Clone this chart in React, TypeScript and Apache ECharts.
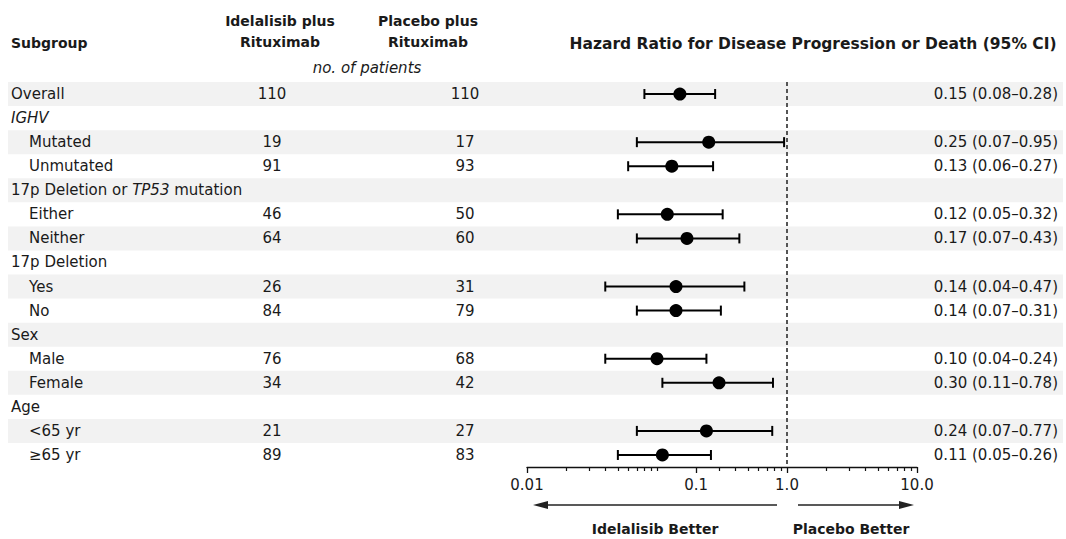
import React, { useEffect, useRef } from "react";
import * as echarts from "echarts";

// ---------- data ----------
const subgroups = [
  "Overall",
  "{i|IGHV}",
  "Mutated",
  "Unmutated",
  "17p Deletion or {i|TP53} mutation",
  "Either",
  "Neither",
  "17p Deletion",
  "Yes",
  "No",
  "Sex",
  "Male",
  "Female",
  "Age",
  "<65 yr",
  "≥65 yr",
];
const indented = [false, false, true, true, false, true, true, false, true, true, false, true, true, false, true, true];
const idelalisibN = [110, null, 19, 91, null, 46, 64, null, 26, 84, null, 76, 34, null, 21, 89];
const placeboN = [110, null, 17, 93, null, 50, 60, null, 31, 79, null, 68, 42, null, 27, 83];
const hazardRatio = [0.15, null, 0.25, 0.13, null, 0.12, 0.17, null, 0.14, 0.14, null, 0.1, 0.3, null, 0.24, 0.11];
const ciLower = [0.08, null, 0.07, 0.06, null, 0.05, 0.07, null, 0.04, 0.07, null, 0.04, 0.11, null, 0.07, 0.05];
const ciUpper = [0.28, null, 0.95, 0.27, null, 0.32, 0.43, null, 0.47, 0.31, null, 0.24, 0.78, null, 0.77, 0.26];

const majorTickValues = [0.01, 0.2, 1, 10];
const majorTickLabels = ["0.01", "0.1", "1.0", "10.0"];
const minorTickValues = [
  0.02, 0.03, 0.04, 0.05, 0.06, 0.07, 0.08, 0.09, 0.1,
  0.3, 0.4, 0.5, 0.6, 0.7, 0.8, 0.9,
  2, 3, 4, 5, 6, 7, 8, 9,
];

const FONT = '"DejaVu Sans", sans-serif';
const TEXT = "#1a1a1a";
const FS = 15;
const HFS = 14;

function fmt(v: number) {
  return v.toFixed(2);
}

export default function App() {
  const ref = useRef<HTMLDivElement>(null);

  useEffect(() => {
    if (!ref.current) return;
    const chart = echarts.init(ref.current, undefined, { renderer: "svg" });

    const rowIdx = subgroups.map((_, i) => String(i));
    const stripeData = subgroups.map((_, i) => (i % 2 === 0 ? 1 : "-"));
    const pointData: number[][] = [];
    const whiskerData: number[][] = [];
    subgroups.forEach((_, i) => {
      const h = hazardRatio[i];
      const lo = ciLower[i];
      const hi = ciUpper[i];
      if (h != null && lo != null && hi != null) {
        pointData.push([h, i]);
        whiskerData.push([lo, hi, i]);
      }
    });

    const option: any = {
      animation: false,
      backgroundColor: "#ffffff",
      grid: [
        { left: 527, right: 149, top: 82, bottom: 72 },
        { left: 8, right: 3, top: 82, bottom: 72 },
      ],
      xAxis: [
        {
          type: "log",
          logBase: 10,
          gridIndex: 0,
          min: 0.01,
          max: 10,
          position: "bottom",
          axisLine: { show: true, lineStyle: { color: "#111", width: 1.3 } },
          axisTick: {
            show: true,
            length: 6,
            inside: false,
            customValues: majorTickValues,
            lineStyle: { color: "#111", width: 1.3 },
          },
          axisLabel: {
            show: true,
            customValues: majorTickValues,
            formatter: (v: number) => {
              const k = majorTickValues.findIndex((t) => Math.abs(t - v) < 1e-9 * Math.max(1, t));
              return k >= 0 ? majorTickLabels[k] : "";
            },
            color: TEXT,
            fontFamily: FONT,
            fontSize: FS,
            margin: 10,
          },
          splitLine: { show: false },
          minorTick: { show: false },
        },
        {
          type: "log",
          logBase: 10,
          gridIndex: 0,
          min: 0.01,
          max: 10,
          position: "bottom",
          axisLine: { show: false },
          axisTick: {
            show: true,
            length: 4,
            inside: false,
            customValues: minorTickValues,
            lineStyle: { color: "#111", width: 1.2 },
          },
          axisLabel: { show: false },
          splitLine: { show: false },
        },
        {
          type: "value",
          gridIndex: 1,
          min: 0,
          max: 1,
          show: false,
        },
      ],
      yAxis: [
        { type: "category", gridIndex: 0, data: rowIdx, inverse: true, show: false },
        { type: "category", gridIndex: 1, data: rowIdx, inverse: true, show: false },
      ],
      series: [
        {
          type: "bar",
          xAxisIndex: 2,
          yAxisIndex: 1,
          data: stripeData,
          barWidth: "100%",
          barCategoryGap: 0,
          itemStyle: { color: "#f2f2f2" },
          silent: true,
          z: 0,
        },
        {
          type: "custom",
          xAxisIndex: 2,
          yAxisIndex: 1,
          data: subgroups.map((_, i) => [0, i]),
          silent: true,
          z: 5,
          renderItem: (params: any, api: any) => {
            const i = params.dataIndex;
            const y = api.coord([0, i])[1];
            const base = {
              textVerticalAlign: "middle",
              fontFamily: FONT,
              fontSize: FS,
              fill: TEXT,
            };
            const children: any[] = [
              {
                type: "text",
                x: indented[i] ? 29 : 11,
                y,
                style: {
                  ...base,
                  text: subgroups[i],
                  textAlign: "left",
                  rich: {
                    i: { fontStyle: "italic", fontFamily: FONT, fontSize: FS, fill: TEXT },
                  },
                },
              },
            ];
            if (idelalisibN[i] != null) {
              children.push({
                type: "text",
                x: 272,
                y,
                style: { ...base, text: String(idelalisibN[i]), textAlign: "center" },
              });
            }
            if (placeboN[i] != null) {
              children.push({
                type: "text",
                x: 465,
                y,
                style: { ...base, text: String(placeboN[i]), textAlign: "center" },
              });
            }
            const h = hazardRatio[i];
            const lo = ciLower[i];
            const hi = ciUpper[i];
            if (h != null && lo != null && hi != null) {
              children.push({
                type: "text",
                x: 1058,
                y,
                style: { ...base, text: `${fmt(h)} (${fmt(lo)}–${fmt(hi)})`, textAlign: "right" },
              });
            }
            return { type: "group", children };
          },
        },
        {
          type: "custom",
          xAxisIndex: 0,
          yAxisIndex: 0,
          data: whiskerData,
          encode: { x: [0, 1], y: 2 },
          clip: false,
          silent: true,
          z: 10,
          renderItem: (params: any, api: any) => {
            const row = api.value(2);
            const p0 = api.coord([api.value(0), row]);
            const p1 = api.coord([api.value(1), row]);
            const cap = 5;
            const st = { stroke: "#000", lineWidth: 2 };
            return {
              type: "group",
              children: [
                { type: "line", shape: { x1: p0[0], y1: p0[1], x2: p1[0], y2: p1[1] }, style: st },
                { type: "line", shape: { x1: p0[0], y1: p0[1] - cap, x2: p0[0], y2: p0[1] + cap }, style: st },
                { type: "line", shape: { x1: p1[0], y1: p1[1] - cap, x2: p1[0], y2: p1[1] + cap }, style: st },
              ],
            };
          },
        },
        {
          type: "scatter",
          xAxisIndex: 0,
          yAxisIndex: 0,
          data: pointData,
          symbol: "circle",
          symbolSize: 13,
          itemStyle: { color: "#000", opacity: 1 },
          silent: true,
          z: 11,
          markLine: {
            silent: true,
            symbol: ["none", "none"],
            label: { show: false },
            lineStyle: { type: [4, 3], color: "#555", width: 2 },
            data: [{ xAxis: 1 }],
          },
        },
      ],
      graphic: [
        {
          type: "text",
          x: 11,
          y: 43,
          style: {
            text: "Subgroup",
            textVerticalAlign: "middle",
            fontFamily: FONT,
            fontSize: HFS,
            fontWeight: "bold",
            fill: TEXT,
          },
        },
        {
          type: "text",
          x: 280,
          y: 31,
          style: {
            text: "Idelalisib plus\nRituximab",
            textAlign: "center",
            textVerticalAlign: "middle",
            fontFamily: FONT,
            fontSize: HFS,
            fontWeight: "bold",
            fill: TEXT,
            lineHeight: 21,
          },
        },
        {
          type: "text",
          x: 428,
          y: 31,
          style: {
            text: "Placebo plus\nRituximab",
            textAlign: "center",
            textVerticalAlign: "middle",
            fontFamily: FONT,
            fontSize: HFS,
            fontWeight: "bold",
            fill: TEXT,
            lineHeight: 21,
          },
        },
        {
          type: "text",
          x: 367,
          y: 68,
          style: {
            text: "no. of patients",
            textAlign: "center",
            textVerticalAlign: "middle",
            fontFamily: FONT,
            fontSize: 15,
            fontStyle: "italic",
            fill: TEXT,
          },
        },
        {
          type: "text",
          x: 813,
          y: 44,
          style: {
            text: "Hazard Ratio for Disease Progression or Death (95% CI)",
            textAlign: "center",
            textVerticalAlign: "middle",
            fontFamily: FONT,
            fontSize: 15.5,
            fontWeight: "bold",
            fill: TEXT,
          },
        },
        {
          type: "line",
          shape: { x1: 777, y1: 505, x2: 544, y2: 505 },
          style: { stroke: "#222", lineWidth: 1.5 },
        },
        {
          type: "polygon",
          shape: { points: [[533, 505], [548, 501], [548, 509]] },
          style: { fill: "#222" },
        },
        {
          type: "line",
          shape: { x1: 798, y1: 505, x2: 904, y2: 505 },
          style: { stroke: "#222", lineWidth: 1.5 },
        },
        {
          type: "polygon",
          shape: { points: [[914, 505], [899, 501], [899, 509]] },
          style: { fill: "#222" },
        },
        {
          type: "text",
          x: 655,
          y: 529,
          style: {
            text: "Idelalisib Better",
            textAlign: "center",
            textVerticalAlign: "middle",
            fontFamily: FONT,
            fontSize: HFS,
            fontWeight: "bold",
            fill: TEXT,
          },
        },
        {
          type: "text",
          x: 851,
          y: 529,
          style: {
            text: "Placebo Better",
            textAlign: "center",
            textVerticalAlign: "middle",
            fontFamily: FONT,
            fontSize: HFS,
            fontWeight: "bold",
            fill: TEXT,
          },
        },
      ],
    };

    chart.setOption(option);
    return () => chart.dispose();
  }, []);

  return (
    <div
      ref={ref}
      style={{ position: "fixed", left: 0, top: 0, width: 1066, height: 539 }}
    />
  );
}
